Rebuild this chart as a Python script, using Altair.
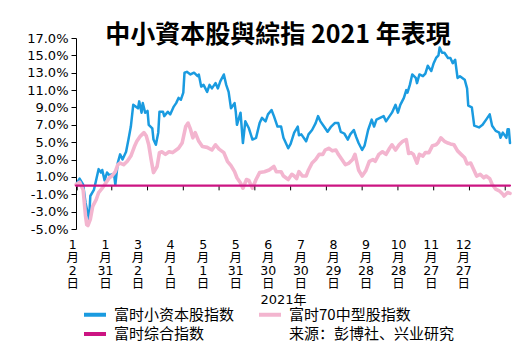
import altair as alt
import pandas as pd

# ---- data (day offset from 2021-01-01, % change) ----
small_days = [0,3,6,8,11,12,15,17,19,21,22,24,26,28,30,32,33,35,37,39,42,44,46,48,50,52,53,55,56,58,
              60,61,64,65,67,69,70,73,74,77,79,82,84,86,88,90,91,93,96,99,102,103,105,107,110,112,114,117,119,121,
              124,126,128,130,133,134,135,138,140,142,145,148,151,154,156,159,161,164,166,169,172,174,178,180,183,186,187,189,193,195,
              198,201,203,205,208,211,214,217,220,222,225,228,230,233,235,237,240,242,245,248,250,252,255,258,260,263,265,268,270,272,
              275,277,278,280,282,285,286,288,291,293,295,298,300,302,304,305,307,309,312,314,316,318,320,322,326,328,329,332,334,338,
              341,344,347,349,352,355,356,358,361,362,363,364]
small_vals = [0.1,0.8,0.1,-2.0,-3.9,-1.2,-0.5,0.7,1.9,1.5,1.8,0.6,1.5,1.2,1.3,1.2,0.1,2.6,3.6,3.0,3.9,5.3,6.8,9.3,9.1,8.9,9.7,8.4,9.5,8.4,
              8.6,7.0,6.6,5.3,4.7,6.1,8.5,8.5,8.0,8.5,8.2,9.1,9.5,10.1,9.9,10.7,13.0,13.1,12.8,13.0,12.6,12.8,11.4,11.6,10.8,11.6,11.2,11.8,11.2,12.0,
              12.8,11.6,10.8,8.9,9.5,8.5,7.0,8.4,4.9,7.4,6.6,5.3,5.5,7.2,7.8,7.4,8.2,8.7,8.0,6.8,6.8,5.5,4.3,4.8,6.1,6.8,5.8,5.9,5.1,5.9,
              6.4,7.2,8.0,7.4,6.8,6.2,6.8,7.2,7.2,6.2,6.0,5.3,5.9,6.4,5.6,4.9,4.1,4.6,6.4,7.6,6.8,7.6,7.8,8.0,7.4,8.0,8.4,9.3,8.4,9.3,
              10.1,11.0,10.7,11.6,12.8,12.4,11.8,12.8,12.6,12.9,13.8,13.2,14.1,14.7,15.0,15.9,15.3,15.3,14.7,14.7,14.1,14.5,12.4,12.6,12.2,11.2,9.2,9.0,6.9,6.7,
              7.0,7.6,8.2,6.9,6.3,6.1,5.5,6.1,5.5,6.5,6.5,4.9]

mid_days = [0,3,6,8,9,10,12,14,17,19,22,25,28,30,33,35,37,40,43,46,49,51,54,57,59,61,63,65,68,70,
            72,75,78,81,84,86,89,92,94,96,98,100,103,106,110,114,117,120,124,127,130,133,135,138,140,143,145,148,151,154,
            158,162,166,168,172,174,178,181,183,185,187,190,193,195,198,201,204,207,209,212,215,218,220,223,226,229,232,234,237,240,
            243,246,249,251,254,257,260,263,265,268,271,274,277,279,281,283,286,288,291,293,296,299,302,304,306,309,312,314,317,320,
            323,326,328,331,334,336,339,342,344,347,349,352,355,358,359,362,364]
mid_vals = [0.1,0.4,-0.5,-3.5,-4.5,-4.6,-3.9,-2.4,-1.6,-0.8,-0.3,0.3,0.9,1.1,1.6,2.4,2.6,2.4,2.8,3.4,4.5,5.1,5.7,6.1,5.7,4.7,3.0,1.5,2.2,3.8,
            3.9,3.6,3.9,3.8,4.1,4.3,4.9,6.8,7.2,6.5,5.5,6.1,5.1,4.5,4.4,4.1,4.7,4.2,3.8,2.8,2.3,1.6,0.9,0.3,-0.3,0.7,0.6,-0.3,0.7,1.5,
            1.6,1.8,2.2,1.6,1.6,1.1,0.7,1.3,1.1,0.8,1.6,1.1,1.1,1.8,2.6,3.0,3.6,3.6,4.1,4.3,4.0,4.1,3.6,3.0,2.4,2.6,3.0,3.6,1.8,1.1,
            1.7,2.8,3.0,2.8,3.6,3.9,3.6,4.3,4.7,4.1,4.7,5.1,5.3,3.7,3.8,3.6,2.6,3.6,3.4,3.8,3.8,4.6,4.7,5.0,5.5,5.1,4.9,4.8,4.7,4.0,
            3.6,3.2,2.5,2.6,1.7,1.1,1.3,0.9,1.1,0.8,0.15,-0.4,-0.6,-1.0,-1.2,-0.8,-0.9]

comp_days = [0, 364]
comp_vals = [0.0, 0.0]

label_months = [1, 1, 3, 4, 5, 5, 6, 7, 8, 9, 10, 11, 12]
label_days = [2, 31, 2, 1, 1, 31, 30, 30, 29, 28, 28, 27, 27]

y_ticks = [-5, -3, -1, 1, 3, 5, 7, 9, 11, 13, 15, 17]

series_names = ["富时小资本股指数", "富时70中型股指数", "富时综合指数", "来源：彭博社、兴业研究"]
series_colors = ["#1a9be0", "#f3b5cf", "#cc1482", "transparent"]

# ---- frames ----
def frame(days, vals, name):
    return pd.DataFrame({"day": days, "value": vals, "series": name})

small_df = frame(small_days, small_vals, series_names[0])
mid_df = frame(mid_days, mid_vals, series_names[1])
comp_df = frame(comp_days, comp_vals, series_names[2])

base = pd.Timestamp("2021-01-01")
tick_df = pd.DataFrame({"day": [(pd.Timestamp(2021, m, d) - base).days for m, d in zip(label_months, label_days)]})
label_df = pd.DataFrame({"k": list(range(len(label_months)))})

W, H = 434, 191
xscale = alt.Scale(domain=[0, 364], nice=False, zero=False)
yscale = alt.Scale(domain=[-5, 17], nice=False, zero=False)
cscale = alt.Scale(domain=series_names, range=series_colors)

legend = alt.Legend(
    orient="none", legendX=11.5, legendY=269, columns=2, direction="horizontal",
    columnPadding=16, rowPadding=2.5,
    symbolType="M-2,0H2", symbolSize=121, symbolStrokeWidth=4, symbolOpacity=1,
    labelFont="Noto Sans CJK SC", labelFontSize=15, labelColor="black", labelOffset=11.5,
    labelLimit=400, title=None, padding=0,
)

yaxis = alt.Axis(
    values=y_ticks, labelExpr="(datum.value < 0 ? '-' : '') + format(abs(datum.value), '.1f') + '%'",
    labelFont="DejaVu Sans", labelFontSize=13, labelColor="black", labelPadding=3,
    labelOverlap=False, labelFlush=False, labelBound=False,
    tickColor="black", tickSize=5, domainColor="black", domainWidth=1, grid=False, title=None,
)

def line(df, width):
    return alt.Chart(df).mark_line(strokeWidth=width, strokeJoin="round", strokeCap="round").encode(
        x=alt.X("day:Q", scale=xscale, axis=None),
        y=alt.Y("value:Q", scale=yscale, axis=yaxis),
        color=alt.Color("series:N", scale=cscale, legend=legend),
    )

ticks = alt.Chart(tick_df).mark_rule(color="black", strokeWidth=1).encode(
    x=alt.X("day:Q", scale=xscale, axis=None),
    y=alt.Y(datum=0, scale=yscale, axis=yaxis),
    y2=alt.Y2(datum=-0.55),
)

main = alt.layer(line(small_df, 2.5), line(mid_df, 3.6), ticks, line(comp_df, 2.2))

label_expr = f"[''+{label_months}[datum.value], '月', ''+{label_days}[datum.value], '日']"
labels = alt.Chart(label_df).mark_point(opacity=0).encode(
    x=alt.X("k:Q", scale=alt.Scale(domain=[0, W / 32.58], nice=False, zero=False),
            axis=alt.Axis(orient="bottom", values=label_df["k"].tolist(), labelExpr=label_expr,
                          ticks=False, domain=False, grid=False, labelPadding=9,
                          labelFont="DejaVu Sans, Noto Sans CJK SC", labelFontSize=12.5, labelLineHeight=13.2,
                          labelColor="black", labelOffset=-3.7, labelOverlap=False, labelFlush=False,
                          labelBound=False, title="2021年", titleFont="DejaVu Sans, Noto Sans CJK SC",
                          titleFontSize=13, titleFontWeight="normal", titleColor="black", titlePadding=3,
                          titleX=207)),
    y=alt.value(0),
)

chart = alt.layer(main, labels).resolve_scale(x="independent").properties(
    width=W, height=H,
    autosize=alt.AutoSizeParams(type="none"),
    padding={"left": 76, "top": 38, "right": 20, "bottom": 123},
    background="white",
    title=alt.TitleParams(
        text="中小資本股與綜指 2021 年表現", font="Noto Sans CJK TC", fontSize=25, fontWeight="bold",
        color="black", anchor="middle", frame="group", dx=-15, offset=-16,
    ),
).configure_view(stroke=None).configure_axisY(labelOverlap=False)

chart.save("out.html", embed_options={"renderer": "svg", "actions": False})
